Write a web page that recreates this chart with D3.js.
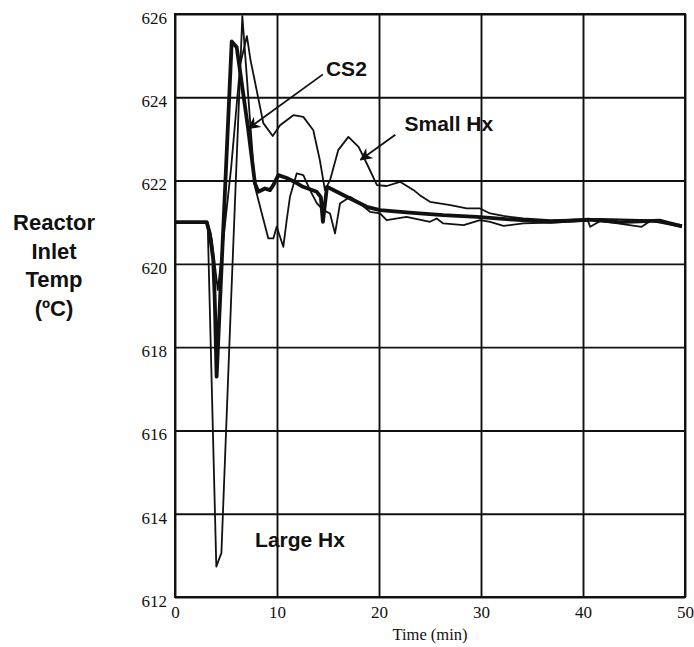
<!DOCTYPE html>
<meta charset="utf-8">
<style>
body { margin: 0; background: #fff; }

.grid line { stroke: #111; stroke-width: 1.9px; }
.grid .domain { display: none; }

.line { fill: none; stroke: #111; stroke-linejoin: round; }
.thin { stroke-width: 1.8px; }
.thick { stroke-width: 3.8px; }

.lbl { font: bold 21px "Liberation Sans", Arial, Helvetica, sans-serif; fill: #111; }
.ytitle { font: bold 22px "Liberation Sans", Arial, Helvetica, sans-serif; fill: #111; }
.arrow { stroke: #111; stroke-width: 1.8px; }
</style>
<body>
<script src="https://cdn.jsdelivr.net/npm/d3@7"></script>
<script>

// time points (min) and reactor inlet temperature (C) for each case
var cs2Time = [0, 3.1, 3.4, 3.75, 3.9, 4.08, 5.56, 6.05, 7.16, 7.84, 8.17, 8.82, 9.31, 9.64, 10.13,
  10.95, 11.93, 12.55, 13.9, 14.3, 14.5, 14.9, 16.83, 18.8, 20.1, 23.0, 26.3, 29.6, 32.8, 36.8,
  40.5, 43.6, 47.5, 49.7];
var cs2Temp = [621.0, 621.0, 620.74, 620.1, 619.13, 617.29, 625.34, 625.2, 623.26, 621.93, 621.73, 621.81, 621.77, 621.89, 622.13,
  622.06, 621.94, 621.85, 621.73, 621.6, 621.01, 621.85, 621.61, 621.37, 621.29, 621.23, 621.17, 621.13, 621.07, 621.01,
  621.06, 621.0, 621.04, 620.9];

var smallTime = [0, 3.2, 3.6, 4.2, 5.5, 6.4, 7.05, 7.4, 8.66, 9.58, 10.3, 11.6, 12.58, 13.56, 14.2,
  14.7, 15.2, 16.0, 17.0, 18.0, 18.8, 19.8, 20.75, 22.06, 23.4, 24.0, 25.0, 27.0, 28.6, 29.9,
  30.9, 32.2, 34.15, 36.8, 41.7, 46.6, 49.7];
var smallTemp = [621.0, 621.0, 620.6, 619.37, 622.3, 624.8, 625.47, 624.9, 623.38, 623.07, 623.33, 623.57, 623.53, 623.21, 622.49,
  621.77, 622.01, 622.73, 623.05, 622.81, 622.41, 621.89, 621.87, 621.97, 621.77, 621.65, 621.49, 621.41, 621.33, 621.33,
  621.21, 621.15, 621.09, 621.05, 621.08, 621.05, 620.93];

var largeTime = [0, 3.2, 4.05, 4.55, 5.5, 6.6, 7.84, 8.5, 9.15, 9.64, 9.97, 10.62, 10.95, 11.27, 11.93,
  12.58, 13.24, 13.9, 14.54, 15.2, 15.69, 16.18, 17.16, 18.14, 19.12, 20.1, 20.75, 22.7, 25.0, 25.66,
  26.3, 28.3, 29.9, 30.9, 32.2, 34.15, 36.8, 40.5, 40.7, 41.7, 45.75, 46.6, 49.7];
var largeTemp = [621.0, 621.0, 612.73, 613.06, 619.13, 625.95, 621.85, 621.22, 620.61, 620.61, 620.89, 620.41, 621.05, 621.61, 622.17,
  622.13, 621.77, 621.46, 621.29, 621.21, 620.73, 621.45, 621.61, 621.45, 621.25, 621.21, 621.05, 621.13, 621.01, 621.09,
  620.97, 620.93, 621.05, 621.01, 620.91, 620.97, 620.99, 621.03, 620.89, 621.03, 620.89, 621.03, 620.89];

var xTicks = [0, 10, 20, 30, 40, 50];
var yTicks = [612, 614, 616, 618, 620, 622, 624, 626];

// set the dimensions and margins of the plot
var margin = {top: 14, right: 9, bottom: 50, left: 175},
    width = 694 - margin.left - margin.right,
    height = 647 - margin.top - margin.bottom;

var svg = d3.select("body").append("svg")
    .attr("width", 694)
    .attr("height", 647),
    g = svg.append("g")
    .attr("transform", "translate(" + margin.left + "," + margin.top + ")");

var x = d3.scaleLinear().domain([0, 50]).range([0, width]);
var y = d3.scaleLinear().domain([612, 626]).range([height, 0]);

var serif = "'Liberation Serif', 'Times New Roman', serif";

// grid lines double as the axes
g.append("g")
    .attr("class", "grid")
    .attr("transform", "translate(0," + height + ")")
    .call(d3.axisBottom(x).tickValues(xTicks).tickSize(-height).tickPadding(5))
  .selectAll("text")
    .attr("dy", "0.95em")
    .style("font-family", serif)
    .style("font-size", "17px")
    .style("fill", "#111");

g.append("g")
    .attr("class", "grid")
    .call(d3.axisLeft(y).tickValues(yTicks).tickSize(-width).tickPadding(8))
  .selectAll("text")
    .attr("dy", "0.55em")
    .style("font-family", serif)
    .style("font-size", "17px")
    .style("fill", "#111");

g.append("rect")
    .attr("width", width)
    .attr("height", height)
    .style("fill", "none")
    .style("stroke", "#111")
    .style("stroke-width", "2px");

// the three curves
var line = d3.line()
    .x(function(d) { return x(d[0]); })
    .y(function(d) { return y(d[1]); });

function pairs(ts, vs) { return ts.map(function(t, i) { return [t, vs[i]]; }); }

g.append("path").attr("class", "line thin").attr("d", line(pairs(largeTime, largeTemp)));
g.append("path").attr("class", "line thin").attr("d", line(pairs(smallTime, smallTemp)));
g.append("path").attr("class", "line thick").attr("d", line(pairs(cs2Time, cs2Temp)));

// arrow head
svg.append("defs").append("marker")
    .attr("id", "head")
    .attr("viewBox", "0 0 10 10")
    .attr("refX", 9).attr("refY", 5)
    .attr("markerWidth", 7).attr("markerHeight", 7)
    .attr("orient", "auto")
  .append("path")
    .attr("d", "M0,0 L10,5 L0,10 L3,5 Z")
    .style("fill", "#111");

// curve labels with their pointers
g.append("text").attr("class", "lbl").attr("x", x(14.8)).attr("y", y(624.5)).text("CS2");
g.append("line").attr("class", "arrow")
    .attr("x1", x(14.5)).attr("y1", y(624.55))
    .attr("x2", x(7.2)).attr("y2", y(623.25))
    .attr("marker-end", "url(#head)");

g.append("text").attr("class", "lbl").attr("x", x(22.5)).attr("y", y(623.2)).text("Small Hx");
g.append("line").attr("class", "arrow")
    .attr("x1", x(21.6)).attr("y1", y(623.1))
    .attr("x2", x(18.2)).attr("y2", y(622.5))
    .attr("marker-end", "url(#head)");

g.append("text").attr("class", "lbl").attr("x", x(7.85)).attr("y", y(613.2)).text("Large Hx");

// axis titles
svg.append("text")
    .attr("x", 430).attr("y", 640)
    .style("text-anchor", "middle")
    .style("font", "16.5px " + serif)
    .style("fill", "#111")
    .text("Time (min)");

var yTitle = ["Reactor", "Inlet", "Temp", "(ºC)"];
svg.append("g").selectAll("text")
    .data(yTitle)
  .enter().append("text")
    .attr("class", "ytitle")
    .attr("x", 54)
    .attr("y", function(d, i) { return 230 + i * 28.5; })
    .style("text-anchor", "middle")
    .text(function(d) { return d; });

</script>
</body>
